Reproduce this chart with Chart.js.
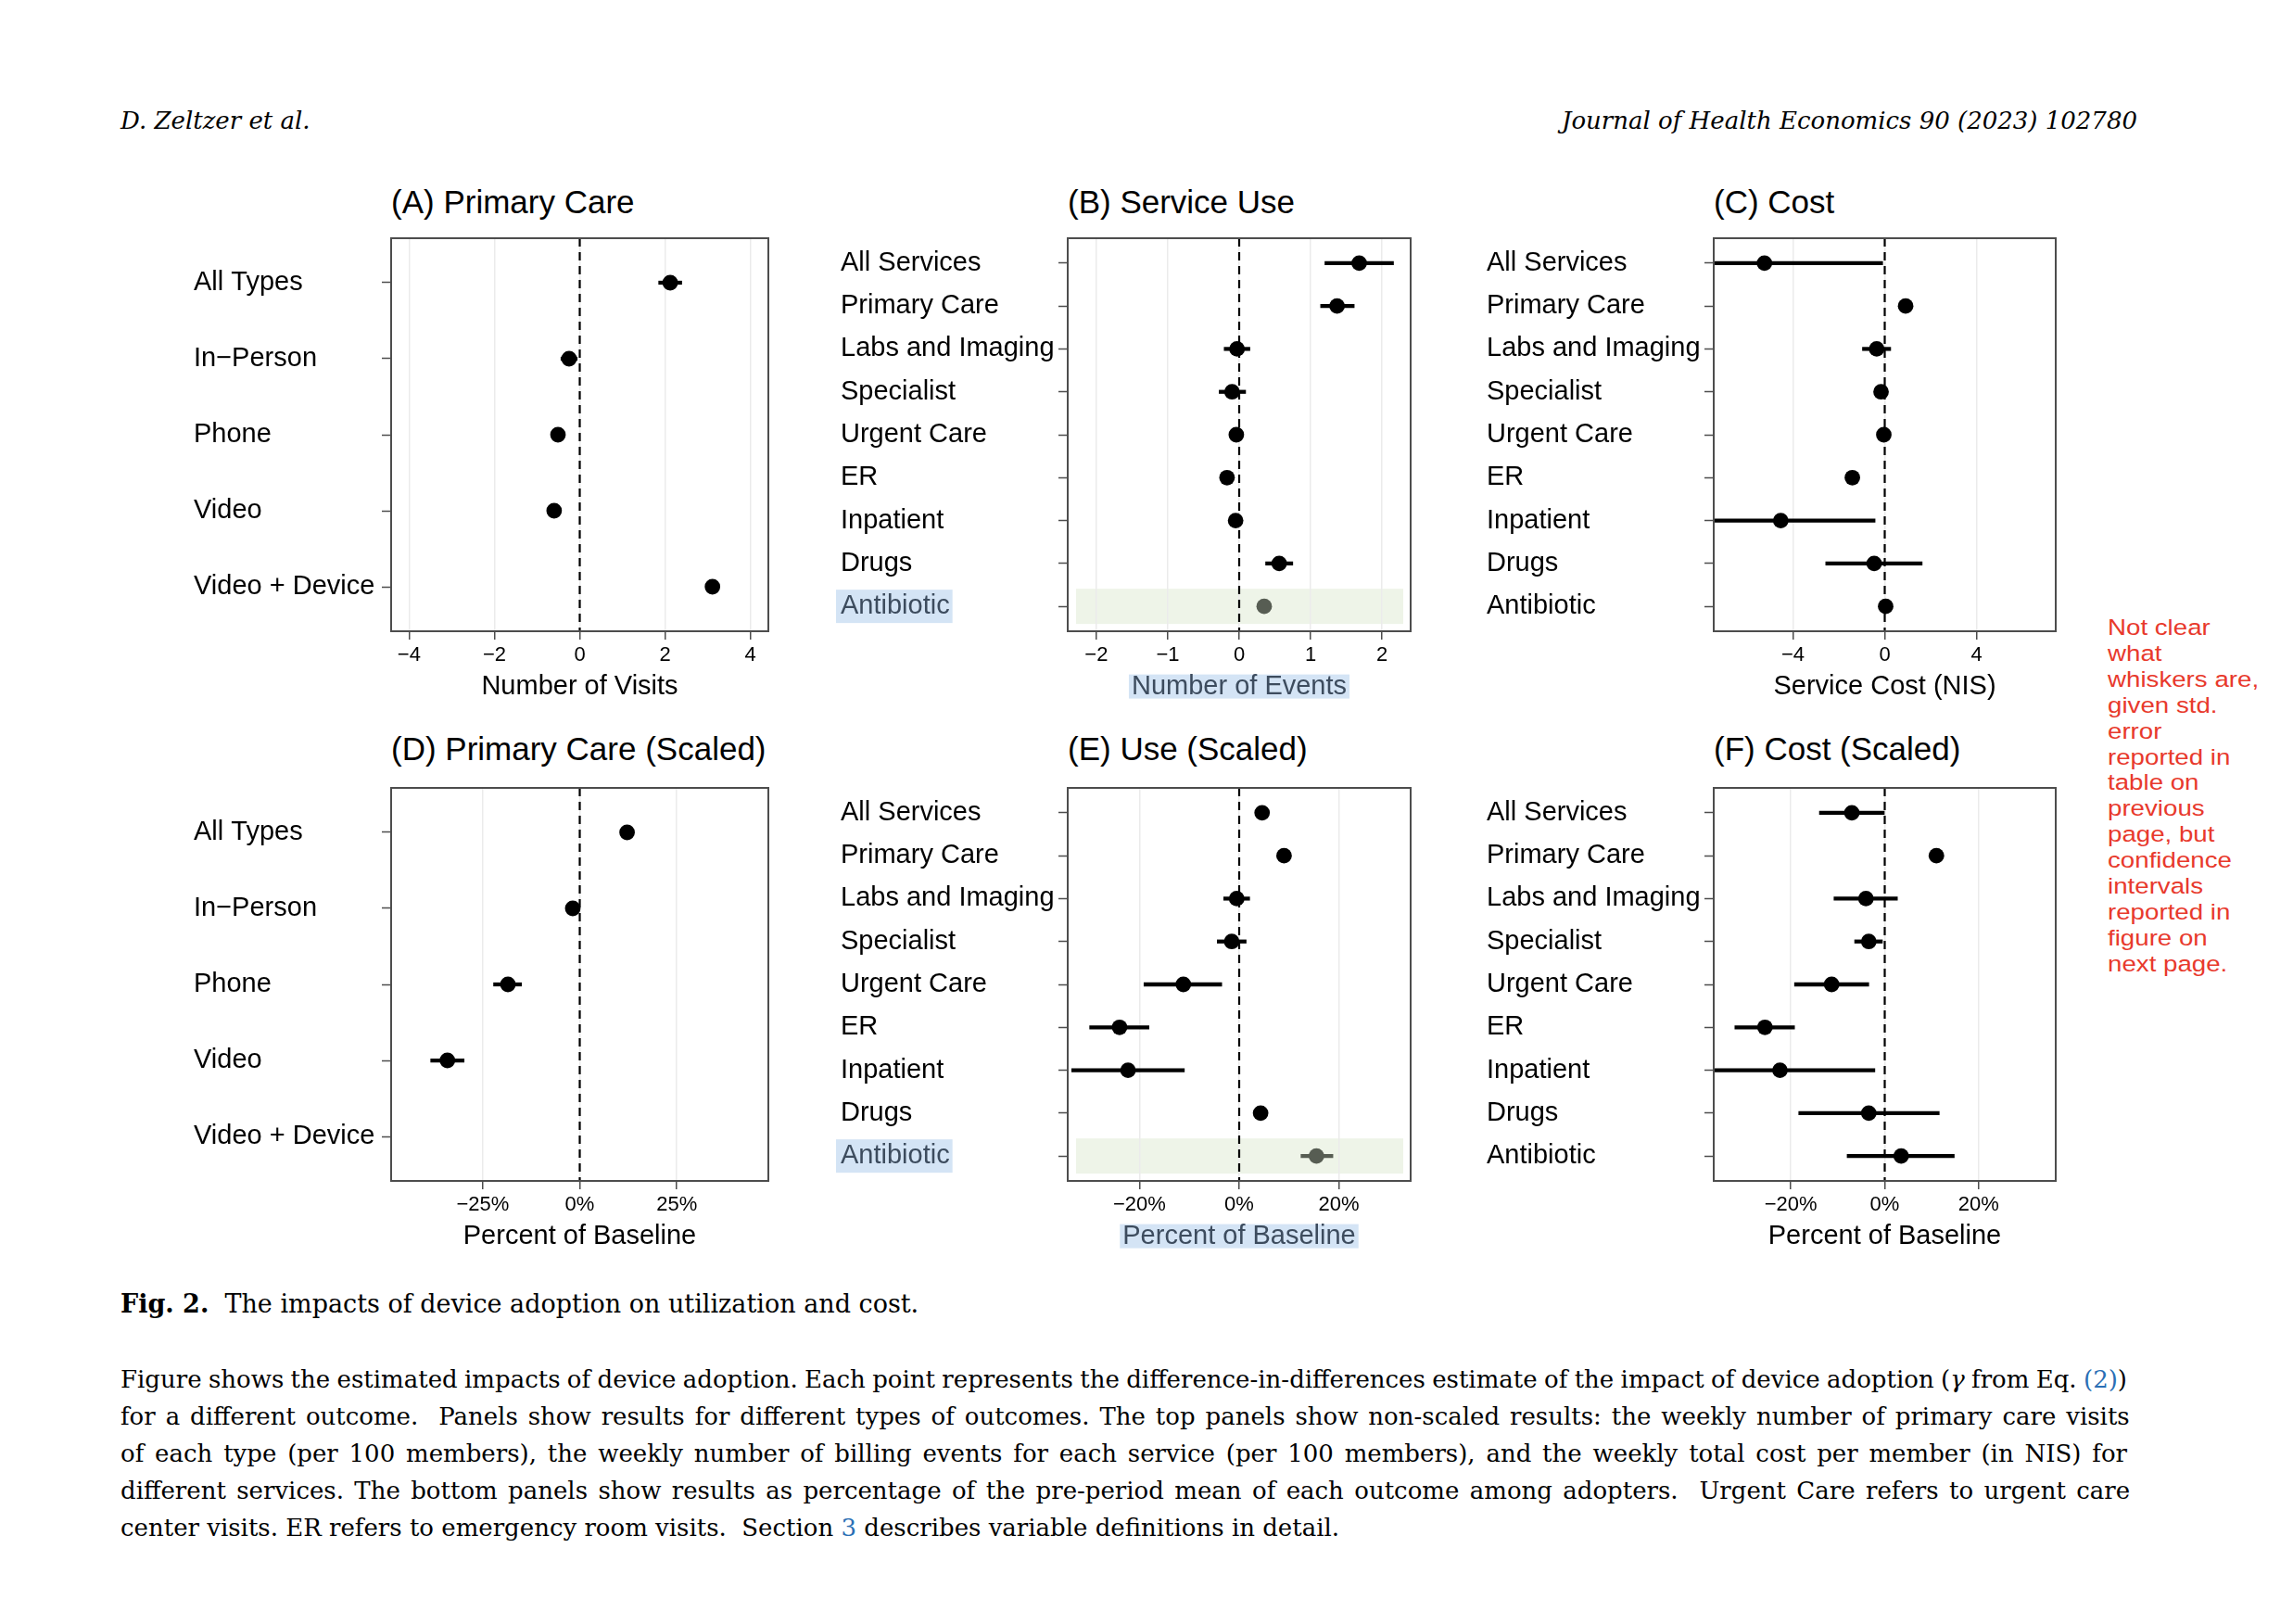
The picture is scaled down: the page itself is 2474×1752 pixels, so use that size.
<!DOCTYPE html>
<html>
<head>
<meta charset="utf-8">
<script src="https://cdn.jsdelivr.net/npm/chart.js@4.4.1/dist/chart.umd.min.js"></script>
<style>
  html, body { margin: 0; padding: 0; background: #fff; }
  body { width: 2474px; height: 1752px; position: relative; overflow: hidden;
         font-family: "Liberation Sans", Arial, Helvetica, sans-serif; color: #000; }
  canvas { position: absolute; }
  .ttl { position: absolute; font-size: 35px; line-height: 36px; white-space: nowrap; }
  .hdr { position: absolute; top: 112px; font-family: "DejaVu Serif", serif; font-style: italic;
         font-size: 26px; line-height: 36px; white-space: nowrap; }
  .cap { position: absolute; left: 130px; width: 2165px; font-family: "DejaVu Serif", serif;
         font-size: 26px; line-height: 40px; }
  .cap div { white-space: nowrap; }
  .cap a { color: #2a6fb5; text-decoration: none; }
  .note { position: absolute; left: 2274px; top: 663px; font-size: 24.5px; line-height: 27.9px;
          color: #e8392c; white-space: nowrap; transform: scaleX(1.13); transform-origin: 0 0; }
</style>
</head>
<body>
<div class="hdr" style="left:130px">D. Zeltzer et al.</div>
<div class="hdr" style="right:168px">Journal of Health Economics 90 (2023) 102780</div>

<div class="cap" style="top:1387px; font-size:27px"><b>Fig. 2.</b>&nbsp; The impacts of device adoption on utilization and cost.</div>
<div class="cap" style="top:1468px">
  <div class="j">Figure shows the estimated impacts of device adoption. Each point represents the difference-in-differences estimate of the impact of device adoption (<i>γ</i> from Eq. <a>(2)</a>)</div>
  <div class="j">for a different outcome.&nbsp; Panels show results for different types of outcomes. The top panels show non-scaled results: the weekly number of primary care visits</div>
  <div class="j">of each type (per 100 members), the weekly number of billing events for each service (per 100 members), and the weekly total cost per member (in NIS) for</div>
  <div class="j">different services. The bottom panels show results as percentage of the pre-period mean of each outcome among adopters.&nbsp; Urgent Care refers to urgent care</div>
  <div>center visits. ER refers to emergency room visits.&nbsp; Section <a>3</a> describes variable definitions in detail.</div>
</div>

<div class="note">Not clear<br>what<br>whiskers are,<br>given std.<br>error<br>reported in<br>table on<br>previous<br>page, but<br>confidence<br>intervals<br>reported in<br>figure on<br>next page.</div>

<script>
// categories
const visitTypes = ['All Types', 'In\u2212Person', 'Phone', 'Video', 'Video + Device'];
const services = ['All Services', 'Primary Care', 'Labs and Imaging', 'Specialist', 'Urgent Care',
                  'ER', 'Inpatient', 'Drugs', 'Antibiotic'];

// (A) primary care visits (per 100 members)
const visitsEst = [2.12, -0.25, -0.51, -0.60, 3.11];
const visitsLo  = [1.85, -0.44, -0.60, -0.68, 3.02];
const visitsHi  = [2.39, -0.06, -0.42, -0.52, 3.20];

// (B) billing events (per 100 members)
const eventsEst = [1.68, 1.37, -0.03, -0.10, -0.04, -0.17, -0.05, 0.56, 0.35];
const eventsLo  = [1.20, 1.14, -0.21, -0.28, -0.10, -0.22, -0.10, 0.37, 0.30];
const eventsHi  = [2.16, 1.61, 0.15, 0.09, 0.02, -0.12, 0.00, 0.75, 0.40];

// (C) cost per member (NIS)
const costEst = [-5.24, 0.91, -0.35, -0.16, -0.04, -1.41, -4.53, -0.46, 0.04];
const costLo  = [-10.39, 0.75, -0.97, -0.35, -0.20, -1.60, -8.64, -2.57, -0.10];
const costHi  = [-0.09, 1.07, 0.26, 0.03, 0.12, -1.20, -0.42, 1.63, 0.18];

// (D) primary care, % of baseline (no estimate for Video + Device)
const visitsPctEst = [12.2, -1.8, -18.5, -34.1, null];
const visitsPctLo  = [11.0, -3.0, -22.2, -38.4, null];
const visitsPctHi  = [13.4, -0.6, -15.0, -29.8, null];

// (E) use, % of baseline
const eventsPctEst = [4.6, 9.0, -0.5, -1.5, -11.2, -24.0, -22.3, 4.3, 15.5];
const eventsPctLo  = [3.8, 8.2, -3.1, -4.4, -19.1, -30.0, -33.6, 3.6, 12.4];
const eventsPctHi  = [5.4, 9.8, 2.1, 1.4, -3.5, -18.1, -11.0, 5.0, 18.8];

// (F) cost, % of baseline
const costPctEst = [-7.0, 11.0, -4.0, -3.4, -11.3, -25.5, -22.3, -3.4, 3.5];
const costPctLo  = [-13.9, 10.2, -10.8, -6.4, -19.2, -31.9, -42.5, -18.3, -8.0];
const costPctHi  = [-0.1, 11.8, 2.7, -0.5, -3.4, -19.2, -2.1, 11.6, 14.8];

// x tick labels
const visitTicks = [-4, -2, 0, 2, 4];
const eventTicks = [-2, -1, 0, 1, 2];
const costTicks = [-4, 0, 4];
const visitPctTicks = [-25, 0, 25];
const usePctTicks = [-20, 0, 20];
const costPctTicks = [-20, 0, 20];

// justify caption lines by spreading word spacing (after fonts are in)
const CAPTION_WIDTH = 2165;
function justifyCaption() {
  document.querySelectorAll('.cap .j').forEach(el => {
    el.style.wordSpacing = '0px';
    el.style.display = 'inline-block';
    const natural = el.getBoundingClientRect().width;
    el.style.display = 'block';
    const gaps = el.textContent.trim().split(/\s+/).length - 1;
    el.style.wordSpacing = ((CAPTION_WIDTH - natural) / gaps) + 'px';
  });
}
justifyCaption();
if (document.fonts && document.fonts.ready) document.fonts.ready.then(justifyCaption);

Chart.defaults.font.family = '"Liberation Sans", Arial, Helvetica, sans-serif';
Chart.defaults.color = '#000';

const AXIS = '#4d4d4d';
const GRID = '#ebebeb';
const HL_BG = '#d4e4f5';
const HL_TEXT = '#3d4c5e';
const DIMMED = '#575d53';
const LABEL_SIZE = 29;
const TITLE_SIZE = 29;

const fmtNum = v => (v < 0 ? '\u2212' : '') + Math.abs(v);
const fmtPct = v => fmtNum(v) + '%';

// frame, zero line, and the pdf-style highlights
const decorations = {
  id: 'decorations',
  beforeDraw(chart, args, opts) {
    if (!opts.highlight) return;
    const {ctx, chartArea: ca} = chart;
    const ys = chart.scales.y, xs = chart.scales.x;
    const i = opts.labels.indexOf(opts.highlight);
    const yp = ys.getPixelForValue(i);
    const step = Math.abs(ys.getPixelForValue(1) - ys.getPixelForValue(0));
    ctx.save();
    ctx.fillStyle = HL_BG;
    ctx.font = LABEL_SIZE + 'px "Liberation Sans", Arial, sans-serif';
    const w = ctx.measureText(opts.highlight).width;
    ctx.fillRect(ys.left - 5, yp - 18, w + 8, 36);
    ctx.font = TITLE_SIZE + 'px "Liberation Sans", Arial, sans-serif';
    const tw = ctx.measureText(opts.xTitle).width;
    const cx = (ca.left + ca.right) / 2, cy = xs.bottom - 5 - TITLE_SIZE * 0.6;
    ctx.fillRect(cx - tw / 2 - 3, cy - 13, tw + 6, 26);
    ctx.fillStyle = '#eef4e8';
    ctx.fillRect(ca.left + 9, yp - 0.41 * step, ca.width - 17, 0.82 * step);
    ctx.restore();
  },
  beforeDatasetsDraw(chart) {
    const {ctx, chartArea: ca} = chart;
    const x0 = chart.scales.x.getPixelForValue(0);
    ctx.save();
    ctx.strokeStyle = '#000';
    ctx.lineWidth = 2.2;
    ctx.setLineDash([9, 6]);
    ctx.beginPath();
    ctx.moveTo(x0, ca.top);
    ctx.lineTo(x0, ca.bottom);
    ctx.stroke();
    ctx.restore();
  },
  afterDatasetsDraw(chart) {
    const {ctx, chartArea: ca} = chart;
    ctx.save();
    ctx.strokeStyle = AXIS;
    ctx.lineWidth = 2;
    ctx.strokeRect(ca.left, ca.top, ca.width, ca.height);
    ctx.restore();
  }
};

function panel(p) {
  const padL = 10, padT = 4, padR = 6, below = 82;
  const left = p.labelX - padL, top = p.box[1] - padT;
  const w = p.box[2] - left + padR, h = p.box[3] + below - top;

  const title = document.createElement('div');
  title.className = 'ttl';
  title.textContent = p.title;
  title.style.left = p.box[0] + 'px';
  title.style.top = (p.box[1] - p.titleGap) + 'px';
  document.body.appendChild(title);

  const cv = document.createElement('canvas');
  cv.width = w; cv.height = h;
  cv.style.left = left + 'px'; cv.style.top = top + 'px';
  cv.style.width = w + 'px'; cv.style.height = h + 'px';
  document.body.appendChild(cv);

  const n = p.labels.length;
  const colorOf = i => (p.labels[i] === p.highlight ? DIMMED : '#000');
  const idx = p.est.map((v, i) => i).filter(i => p.est[i] !== null);

  new Chart(cv, {
    type: 'scatter',
    data: {
      datasets: [
        {
          type: 'scatter', order: 0,
          data: idx.map(i => ({x: p.est[i], y: i})),
          pointRadius: 8.4, pointHoverRadius: 8.4, pointBorderWidth: 0,
          pointBackgroundColor: idx.map(colorOf)
        },
        {
          type: 'bar', order: 1, indexAxis: 'y',
          data: idx.map(i => ({y: i, x: [p.lo[i], p.hi[i]]})),
          backgroundColor: idx.map(colorOf),
          barThickness: 3.6, borderWidth: 0
        }
      ]
    },
    options: {
      responsive: false, animation: false, devicePixelRatio: 1,
      layout: {autoPadding: false, padding: {left: padL, top: padT, right: padR, bottom: 0}},
      plugins: {
        legend: {display: false}, tooltip: {enabled: false},
        decorations: {highlight: p.highlight, labels: p.labels, xTitle: p.xTitle}
      },
      scales: {
        x: {
          type: 'linear', position: 'bottom', min: -p.xr, max: p.xr, offset: false,
          afterBuildTicks: s => { s.ticks = p.xticks.map(v => ({value: v})); },
          afterFit: s => { s.height = below; s.paddingLeft = 0; s.paddingRight = 0; },
          grid: {color: GRID, lineWidth: 1.5, tickColor: AXIS, tickWidth: 1.5, tickLength: 9, offset: false},
          border: {display: false},
          ticks: {font: {size: 22}, padding: 4, maxRotation: 0, autoSkip: false, callback: v => p.fmt(v)},
          title: {display: true, text: p.xTitle, font: {size: TITLE_SIZE}, color: p.highlight ? HL_TEXT : '#000',
                  padding: {top: 0, bottom: 5}}
        },
        y: {
          type: 'linear', reverse: true, min: -p.yPad, max: n - 1 + p.yPad, offset: false,
          afterBuildTicks: s => { s.ticks = p.labels.map((_, i) => ({value: i})); },
          afterFit: s => { s.width = p.box[0] - p.labelX; s.paddingTop = 0; s.paddingBottom = 0; },
          grid: {drawOnChartArea: false, tickColor: AXIS, tickWidth: 1.5, tickLength: 10, offset: false},
          border: {display: false},
          ticks: {
            font: {size: LABEL_SIZE}, crossAlign: 'far', autoSkip: false, padding: 4,
            callback: v => p.labels[v],
            color: c => (c.tick && p.labels[c.tick.value] === p.highlight ? HL_TEXT : '#000')
          }
        }
      }
    },
    plugins: [decorations]
  });
}

panel({title: '(A) Primary Care', labels: visitTypes, est: visitsEst, lo: visitsLo, hi: visitsHi,
       xticks: visitTicks, fmt: fmtNum, xTitle: 'Number of Visits', xr: 4.42, yPad: 0.585,
       labelX: 209, box: [422, 257, 829, 681], titleGap: 57});
panel({title: '(B) Service Use', labels: services, est: eventsEst, lo: eventsLo, hi: eventsHi,
       xticks: eventTicks, fmt: fmtNum, xTitle: 'Number of Events', xr: 2.40, yPad: 0.58,
       labelX: 907, box: [1152, 257, 1522, 681], titleGap: 57, highlight: 'Antibiotic'});
panel({title: '(C) Cost', labels: services, est: costEst, lo: costLo, hi: costHi,
       xticks: costTicks, fmt: fmtNum, xTitle: 'Service Cost (NIS)', xr: 7.45, yPad: 0.58,
       labelX: 1604, box: [1849, 257, 2218, 681], titleGap: 57});
panel({title: '(D) Primary Care (Scaled)', labels: visitTypes, est: visitsPctEst, lo: visitsPctLo, hi: visitsPctHi,
       xticks: visitPctTicks, fmt: fmtPct, xTitle: 'Percent of Baseline', xr: 48.6, yPad: 0.585,
       labelX: 209, box: [422, 850, 829, 1274], titleGap: 60});
panel({title: '(E) Use (Scaled)', labels: services, est: eventsPctEst, lo: eventsPctLo, hi: eventsPctHi,
       xticks: usePctTicks, fmt: fmtPct, xTitle: 'Percent of Baseline', xr: 34.4, yPad: 0.58,
       labelX: 907, box: [1152, 850, 1522, 1274], titleGap: 60, highlight: 'Antibiotic'});
panel({title: '(F) Cost (Scaled)', labels: services, est: costPctEst, lo: costPctLo, hi: costPctHi,
       xticks: costPctTicks, fmt: fmtPct, xTitle: 'Percent of Baseline', xr: 36.4, yPad: 0.58,
       labelX: 1604, box: [1849, 850, 2218, 1274], titleGap: 60});
</script>
</body>
</html>
